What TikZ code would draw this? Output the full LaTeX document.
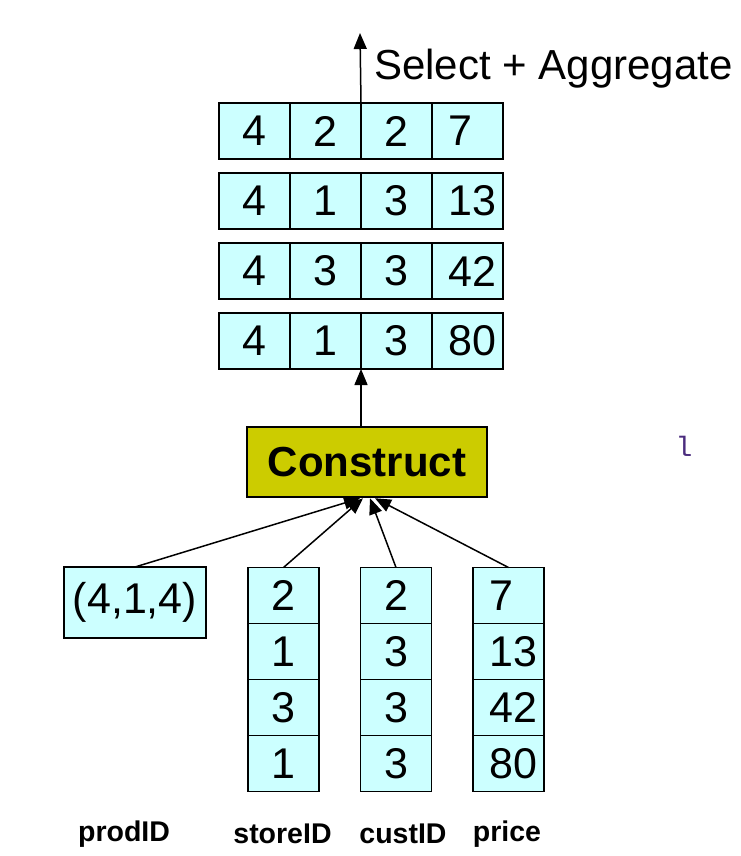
\documentclass[tikz,border=0pt]{standalone}
\usepackage{fontspec}
\setmainfont{Liberation Sans}
\setmonofont{Liberation Mono}
\usetikzlibrary{arrows.meta,positioning}
\definecolor{cellcyan}{HTML}{CCFFFF}
\definecolor{opyellow}{HTML}{CCCC00}
\definecolor{codepurple}{HTML}{4B2C7E}
\begin{document}
\begin{tikzpicture}[x=1pt,y=-1pt,
				cell/.style={draw,line width=1.8pt,fill=cellcyan,outer sep=0pt,inner sep=0pt,
					minimum width=71pt,minimum height=56pt,font=\fontsize{43}{43}\selectfont},
				lastcell/.style={cell,align=left,text width=38pt,inner xsep=16.5pt},
				op/.style={draw,line width=2.5pt,fill=opyellow,minimum width=240pt,minimum height=70pt,
					font=\bfseries\fontsize{42}{42}\selectfont},
				colname/.style={font=\bfseries\fontsize{28.5}{28.5}\selectfont},
				conn/.style={-{Triangle[length=16pt,width=13pt]},line width=1.5pt}]
\useasboundingbox (0,0) rectangle (740,856);
% result tuples
\foreach \row/\y/\a/\b/\c/\d in {1/131/4/2/2/7,2/201/4/1/3/13,3/271/4/3/3/42,4/341/4/1/3/80} {
	\node[cell] (r\row c1) at (254.5,\y) {\a};
	\node[cell,right=0pt of r\row c1] (r\row c2) {\b};
	\node[cell,right=0pt of r\row c2] (r\row c3) {\c};
	\node[lastcell,right=0pt of r\row c3] (r\row c4) {\d};
}
\node[op] (construct) at (367,462) {Construct};
% input columns
\node[cell,minimum width=142pt,minimum height=71pt] (prod) at (135,602.5) {(4,1,4)};
\foreach \v [count=\i] in {2,1,3,1}
	\node[cell] (store\i) at (283.5,{595.5+56*(\i-1)}) {\v};
\foreach \v [count=\i] in {2,3,3,3}
	\node[cell] (cust\i) at (396,{595.5+56*(\i-1)}) {\v};
\foreach \v [count=\i] in {7,13,42,80}
	\node[lastcell] (price\i) at (508.5,{595.5+56*(\i-1)}) {\v};
\node[colname] (prodlabel) at (124,834) {prodID};
\node[colname] (storelabel) at (282.5,834) {storeID};
\node[colname] (custlabel) at (403,834) {custID};
\node[colname] (pricelabel) at (507,834) {price};
% arrows
\draw[conn] (prod.north) -- ([xshift=-7pt]construct.south);
\draw[conn] (store1.north) -- ([xshift=-4pt]construct.south);
\draw[conn] (cust1.north) -- ([xshift=3pt]construct.south);
\draw[conn] (price1.north) -- ([xshift=8pt]construct.south);
\draw[conn] (construct.north -| r4c3.south west) -- (r4c3.south west);
\coordinate (out) at (360,33);
\draw[conn] (r1c3.north west) -- (out);
\node[anchor=west,inner sep=0pt,font=\fontsize{42}{42}\selectfont] (selagg) at (374,69) {Select + Aggregate};
\node[font=\ttfamily\fontsize{28}{28}\selectfont,text=codepurple] (stray) at (684,446) {l};
\end{tikzpicture}
\end{document}
